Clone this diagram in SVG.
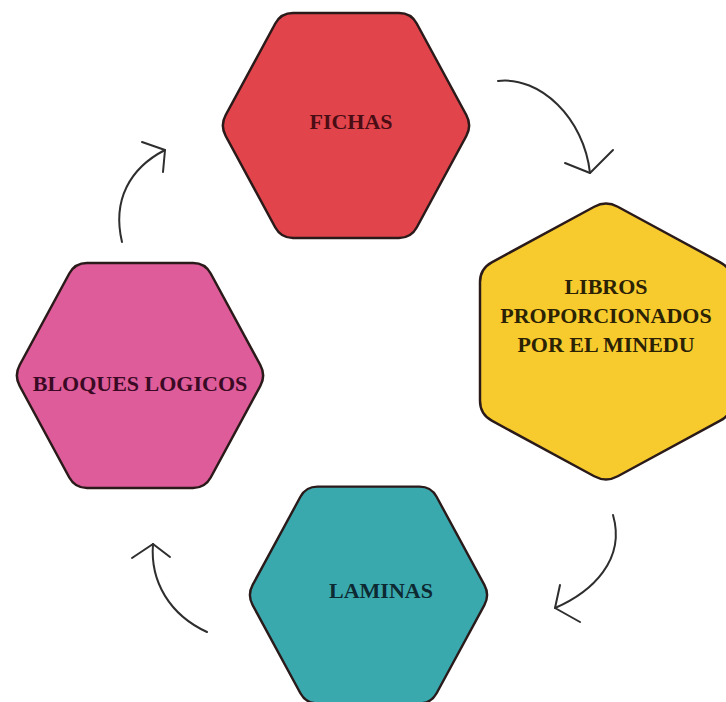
<svg xmlns="http://www.w3.org/2000/svg" width="726" height="702" viewBox="0 0 726 702">
<style>
.hex{stroke:#2a1a1a;stroke-width:2.5;stroke-linejoin:round}
.lbl{font-family:"Liberation Serif","Times New Roman",serif;font-weight:bold;font-size:22px;text-anchor:middle}
.arr{fill:none;stroke:#2e2e2e;stroke-width:2;stroke-linecap:round;stroke-linejoin:round}
</style>
<defs>
<path id="hexShape" d="M -120.3,-10.5 L -70.7,-102 Q -65,-112.5 -53,-112.5 L 53,-112.5 Q 65,-112.5 70.7,-102 L 120.3,-10.5 Q 126,0 120.3,10.5 L 70.7,102 Q 65,112.5 53,112.5 L -53,112.5 Q -65,112.5 -70.7,102 L -120.3,10.5 Q -126,0 -120.3,-10.5 Z"/>
</defs>
<rect width="726" height="702" fill="#ffffff"/>
<g id="fichas">
<use href="#hexShape" class="hex" fill="#E2444C" vector-effect="non-scaling-stroke" transform="translate(346,125.5)"/>
<text class="lbl" x="351" y="129" fill="#4a0d14">FICHAS</text>
</g>
<g id="libros">
<use href="#hexShape" class="hex" fill="#F7CB2D" transform="translate(606,341.5) rotate(90) scale(1.12)" style="stroke-width:2.2"/>
<text class="lbl" x="606" y="294" fill="#2b2205">LIBROS</text>
<text class="lbl" x="606" y="323" fill="#2b2205">PROPORCIONADOS</text>
<text class="lbl" x="606" y="352" fill="#2b2205">POR EL MINEDU</text>
</g>
<g id="laminas">
<use href="#hexShape" class="hex" fill="#3AA9AE" transform="translate(368.5,595) scale(0.963)"/>
<text class="lbl" x="381" y="598" fill="#0d2a33">LAMINAS</text>
</g>
<g id="bloques">
<use href="#hexShape" class="hex" fill="#DE5C9A" transform="translate(140,375.5)"/>
<text class="lbl" x="140" y="391" fill="#3a0a24">BLOQUES LOGICOS</text>
</g>
<g id="connectors">
<path class="arr" d="M498,81 C540,76 584,118 590,173"/>
<path class="arr" d="M565,163 L590,173 L613,150"/>
<path class="arr" d="M613,515 C626,560 592,592 555,608"/>
<path class="arr" d="M560,585 L555,608 L580,622"/>
<path class="arr" d="M207,632 C170,615 150,582 153,544"/>
<path class="arr" d="M132,558 L153,544 L170,557"/>
<path class="arr" d="M122,242 C112,200 130,168 165,150"/>
<path class="arr" d="M142,142 L165,150 L163,172"/>
</g>
</svg>
